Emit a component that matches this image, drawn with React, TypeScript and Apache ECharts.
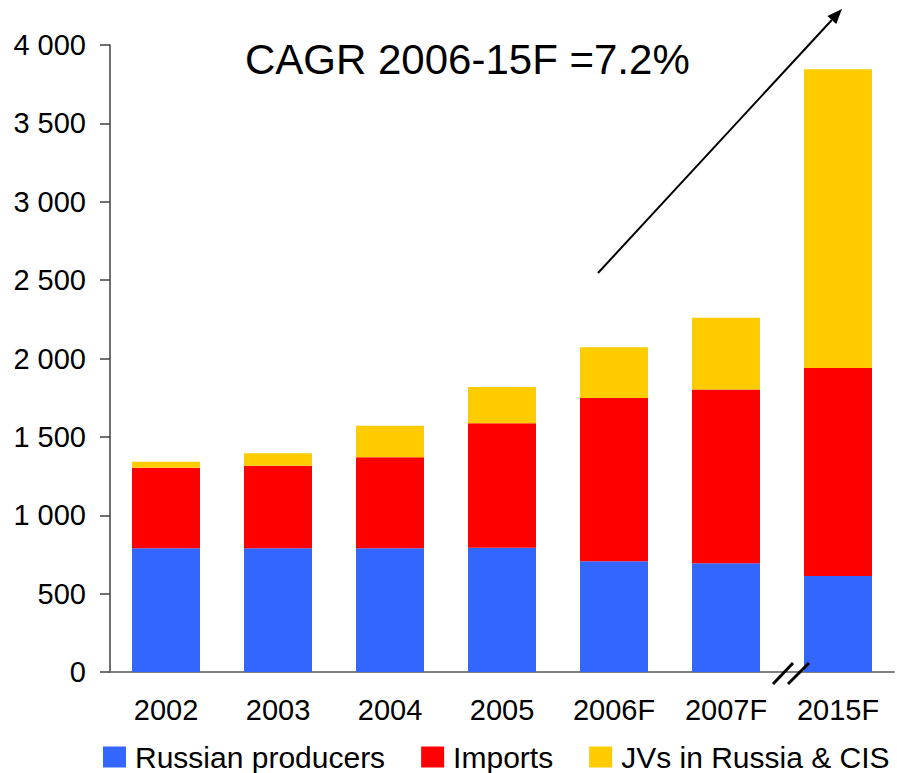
import React, { useEffect, useRef } from "react";
import * as echarts from "echarts";

const categories = ["2002", "2003", "2004", "2005", "2006F", "2007F", "2015F"];
const russianProducers = [789, 789, 789, 793, 706, 693, 612];
const imports = [514, 527, 581, 794, 1042, 1110, 1327];
const jvs = [39, 79, 201, 231, 323, 457, 1906];
const yTicks = { min: 0, max: 4000, interval: 500 };
const annotation = "CAGR 2006-15F =7.2%";

const FONT = "'Liberation Sans', Arial, Helvetica, sans-serif";

function fmt(v: number): string {
  return String(v).replace(/\B(?=(\d{3})+(?!\d))/g, " ");
}

export default function App() {
  const ref = useRef<HTMLDivElement>(null);
  useEffect(() => {
    if (!ref.current) return;
    const chart = echarts.init(ref.current, null, { renderer: "svg" });
    const x1 = 598, y1 = 273, x2 = 842, y2 = 9;
    const dx = x2 - x1, dy = y2 - y1;
    const len = Math.sqrt(dx * dx + dy * dy);
    const ux = dx / len, uy = dy / len;
    const hl = 15, hw = 6;
    const bx = x2 - ux * hl, by = y2 - uy * hl;
    const px = -uy, py = ux;
    chart.setOption({
      animation: false,
      textStyle: { fontFamily: FONT },
      grid: { left: 110, right: 3, top: 45, bottom: 101, containLabel: false },
      legend: {
        left: 103,
        top: 742,
        padding: 0,
        itemWidth: 23,
        itemHeight: 21,
        itemGap: 36,
        icon: "rect",
        textStyle: {
          fontSize: 30,
          lineHeight: 30,
          color: "#000",
          fontFamily: FONT,
          padding: [0, 0, 0, 4],
        },
        data: ["Russian producers", "Imports", "JVs in Russia & CIS"],
      },
      xAxis: {
        type: "category",
        data: categories,
        axisLine: { lineStyle: { color: "#808080", width: 2 } },
        axisTick: { show: false },
        axisLabel: { fontSize: 29, color: "#000", margin: 23, fontFamily: FONT },
      },
      yAxis: {
        type: "value",
        min: yTicks.min,
        max: yTicks.max,
        interval: yTicks.interval,
        splitLine: { show: false },
        axisLine: { show: true, lineStyle: { color: "#404040", width: 1.5 } },
        axisTick: { show: true, length: 10, lineStyle: { color: "#404040", width: 1.5 } },
        axisLabel: {
          fontSize: 29,
          color: "#000",
          margin: 24,
          fontFamily: FONT,
          formatter: (v: number) => fmt(v),
        },
      },
      series: [
        {
          name: "Russian producers",
          type: "bar",
          stack: "total",
          barWidth: 68,
          data: russianProducers,
          itemStyle: { color: "#3366FF" },
        },
        {
          name: "Imports",
          type: "bar",
          stack: "total",
          barWidth: 68,
          data: imports,
          itemStyle: { color: "#FF0000" },
        },
        {
          name: "JVs in Russia & CIS",
          type: "bar",
          stack: "total",
          barWidth: 68,
          data: jvs,
          itemStyle: { color: "#FFCC00" },
        },
      ],
      graphic: [
        {
          type: "text",
          left: 245,
          top: 38,
          style: { text: annotation, fontSize: 42, fill: "#000", fontFamily: FONT },
          z: 10,
        },
        {
          type: "line",
          shape: { x1, y1, x2: bx, y2: by },
          style: { stroke: "#000", lineWidth: 2 },
          z: 10,
        },
        {
          type: "polygon",
          shape: {
            points: [
              [x2, y2],
              [bx + px * hw, by + py * hw],
              [bx - px * hw, by - py * hw],
            ],
          },
          style: { fill: "#000" },
          z: 10,
        },
        {
          type: "line",
          shape: { x1: 773, y1: 684, x2: 793, y2: 663 },
          style: { stroke: "#000", lineWidth: 3 },
          z: 10,
        },
        {
          type: "line",
          shape: { x1: 788, y1: 684, x2: 809, y2: 663 },
          style: { stroke: "#000", lineWidth: 3 },
          z: 10,
        },
      ],
    });
    return () => chart.dispose();
  }, []);
  return (
    <div
      ref={ref}
      style={{ position: "fixed", left: 0, top: 0, width: 897, height: 773, background: "#fff" }}
    />
  );
}
